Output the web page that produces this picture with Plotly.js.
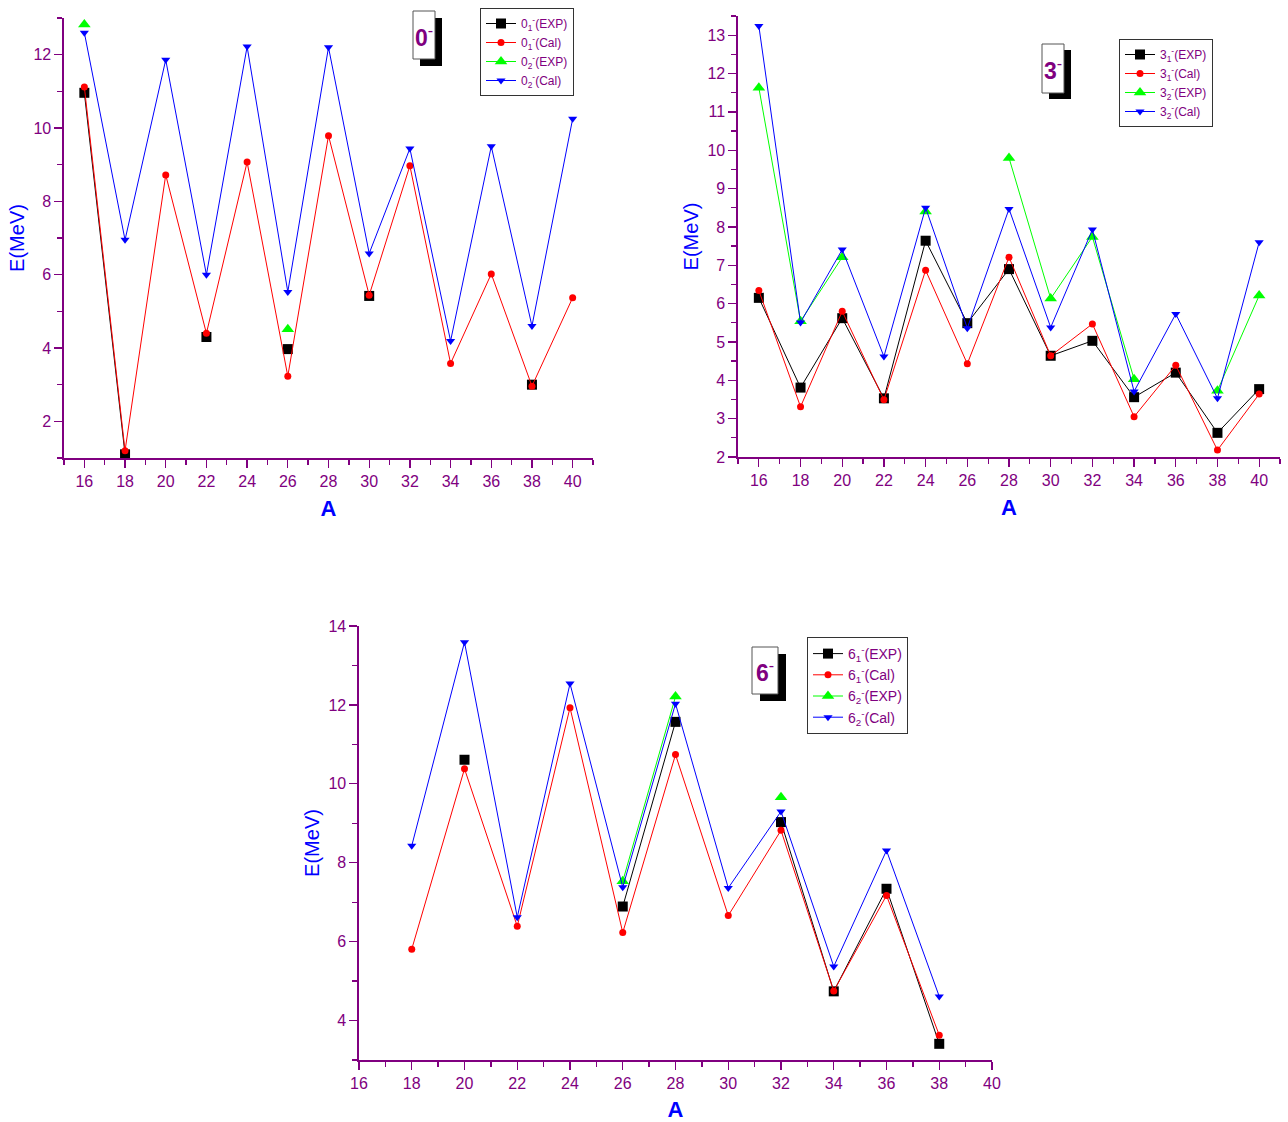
<!DOCTYPE html>
<html>
<head>
<meta charset="utf-8">
<script src="https://cdn.plot.ly/plotly-3.0.1.min.js"></script>
<style>html,body{margin:0;padding:0;background:#fff;}#chart{width:1288px;height:1122px;}</style>
</head>
<body>
<div id="chart"></div>
<script>
// ---- Data ----
const massA = [16, 18, 20, 22, 24, 26, 28, 30, 32, 34, 36, 38, 40];
const massA6 = [18, 20, 22, 24, 26, 28, 30, 32, 34, 36, 38];

// 0- states
const zero1Exp = [10.96, 1.1, null, 4.3, null, 3.97, null, 5.42, null, null, null, 3.0, null];
const zero1Cal = [11.12, 1.2, 8.72, 4.4, 9.07, 3.23, 9.79, 5.44, 8.97, 3.58, 6.02, 2.96, 5.37];
const zero2Exp = [12.82, null, null, null, null, 4.51, null, null, null, null, null, null, null];
const zero2Cal = [12.6, 6.95, 11.86, 6.0, 12.22, 5.53, 12.2, 6.58, 9.44, 4.19, 9.5, 4.6, 10.25];

// 3- states
const three1Exp = [6.15, 3.81, 5.62, 3.53, 7.64, 5.49, 6.90, 4.64, 5.03, 3.56, 4.2, 2.63, 3.77];
const three1Cal = [6.34, 3.31, 5.8, 3.49, 6.87, 4.43, 7.21, 4.64, 5.47, 3.05, 4.39, 2.18, 3.64];
const three2Exp = [11.63, 5.54, 7.21, null, 8.4, null, 9.8, 6.13, 7.74, 4.03, null, 3.73, 6.21];
const three2Cal = [13.24, 5.51, 7.41, 4.62, 8.5, 5.36, 8.47, 5.38, 7.93, 3.71, 5.73, 3.53, 7.6];

// 6- states
const six1Exp = [null, 10.61, null, null, 6.89, 11.57, null, 9.03, 4.74, 7.34, 3.41];
const six1Cal = [5.81, 10.38, 6.39, 11.93, 6.23, 10.74, 6.66, 8.82, 4.75, 7.17, 3.63];
const six2Exp = [null, null, null, null, 7.53, 12.21, null, 9.66, null, null, null];
const six2Cal = [8.43, 13.59, 6.62, 12.54, 7.38, 12.03, 7.36, 9.3, 5.37, 8.31, 4.61];

const xTickVals = [16, 18, 20, 22, 24, 26, 28, 30, 32, 34, 36, 38, 40];

// ---- Styles ----
const PURPLE = '#800080';
const FONT = 'Arial, "Liberation Sans", sans-serif';
const styles = [
  {color: '#000000', symbol: 'square', size: 10},
  {color: '#ff0000', symbol: 'circle', size: 7},
  {color: '#00ff00', symbol: 'triangle-up', size: 11},
  {color: '#0000ff', symbol: 'triangle-down', size: 8}
];

function mk(x, y, name, st, xa, ya, lg) {
  return {
    x: x, y: y, name: name, type: 'scatter', mode: 'lines+markers',
    connectgaps: false, xaxis: xa, yaxis: ya, legend: lg,
    line: {color: st.color, width: 1},
    marker: {color: st.color, symbol: st.symbol, size: st.size, line: {width: 0}}
  };
}

const traces = [
  mk(massA, zero1Exp, '0<sub>1</sub><sup>-</sup>(EXP)', styles[0], 'x', 'y', 'legend'),
  mk(massA, zero1Cal, '0<sub>1</sub><sup>-</sup>(Cal)', styles[1], 'x', 'y', 'legend'),
  mk(massA, zero2Exp, '0<sub>2</sub><sup>-</sup>(EXP)', styles[2], 'x', 'y', 'legend'),
  mk(massA, zero2Cal, '0<sub>2</sub><sup>-</sup>(Cal)', styles[3], 'x', 'y', 'legend'),
  mk(massA, three1Exp, '3<sub>1</sub><sup>-</sup>(EXP)', styles[0], 'x2', 'y2', 'legend2'),
  mk(massA, three1Cal, '3<sub>1</sub><sup>-</sup>(Cal)', styles[1], 'x2', 'y2', 'legend2'),
  mk(massA, three2Exp, '3<sub>2</sub><sup>-</sup>(EXP)', styles[2], 'x2', 'y2', 'legend2'),
  mk(massA, three2Cal, '3<sub>2</sub><sup>-</sup>(Cal)', styles[3], 'x2', 'y2', 'legend2'),
  mk(massA6, six1Exp, '6<sub>1</sub><sup>-</sup>(EXP)', styles[0], 'x3', 'y3', 'legend3'),
  mk(massA6, six1Cal, '6<sub>1</sub><sup>-</sup>(Cal)', styles[1], 'x3', 'y3', 'legend3'),
  mk(massA6, six2Exp, '6<sub>2</sub><sup>-</sup>(EXP)', styles[2], 'x3', 'y3', 'legend3'),
  mk(massA6, six2Cal, '6<sub>2</sub><sup>-</sup>(Cal)', styles[3], 'x3', 'y3', 'legend3')
];

const W = 1288, H = 1122;
const px = v => v / W;
const py = v => 1 - v / H;

function xaxisDef(domain, range, anchor) {
  return {
    domain: domain, range: range, anchor: anchor,
    tickvals: xTickVals, ticks: 'outside', ticklen: 8, tickwidth: 1.3, tickcolor: PURPLE,
    minor: {dtick: 1, tick0: 15, ticks: 'outside', ticklen: 5, tickcolor: PURPLE, tickwidth: 1.3, showgrid: false},
    showline: true, linecolor: PURPLE, linewidth: 1.6, showgrid: false, zeroline: false,
    tickfont: {family: FONT, size: 16, color: PURPLE},
    title: {text: '<b>A</b>', font: {family: FONT, size: 22, color: '#0000ff'}, standoff: 12}
  };
}
function yaxisDef(domain, range, dtick, minorD, anchor) {
  return {
    domain: domain, range: range, anchor: anchor,
    dtick: dtick, tick0: 0, ticks: 'outside', ticklen: 8, tickwidth: 1.3, tickcolor: PURPLE,
    minor: {dtick: minorD, tick0: 0, ticks: 'outside', ticklen: 5, tickcolor: PURPLE, tickwidth: 1.3, showgrid: false},
    showline: true, linecolor: PURPLE, linewidth: 1.6, showgrid: false, zeroline: false,
    tickfont: {family: FONT, size: 16, color: PURPLE},
    title: {text: 'E(MeV)', font: {family: FONT, size: 20, color: '#0000ff'}, standoff: 3}
  };
}
function legendDef(x, y, size) {
  return {
    x: x, y: y, xanchor: 'left', yanchor: 'top', xref: 'paper', yref: 'paper',
    bgcolor: '#ffffff', bordercolor: '#333333', borderwidth: 1,
    font: {family: FONT, size: size, color: PURPLE}, tracegroupgap: 0, itemwidth: 30
  };
}
function labelBox(x0, y0, x1, y1, sx, sy) {
  return [
    {type: 'rect', xref: 'paper', yref: 'paper', x0: px(x0 + sx), x1: px(x1 + sx), y0: py(y1 + sy), y1: py(y0 + sy),
     fillcolor: '#000000', line: {width: 0}},
    {type: 'rect', xref: 'paper', yref: 'paper', x0: px(x0), x1: px(x1), y0: py(y1), y1: py(y0),
     fillcolor: '#ffffff', line: {color: '#555555', width: 1}}
  ];
}
function labelText(txt, cx, cy) {
  return {text: '<b>' + txt + '</b><sup>-</sup>', xref: 'paper', yref: 'paper', x: px(cx), y: py(cy),
    xanchor: 'center', yanchor: 'middle', showarrow: false,
    font: {family: FONT, size: 23, color: PURPLE}};
}

const layout = {
  width: W, height: H, margin: {l: 0, r: 0, t: 0, b: 0},
  paper_bgcolor: '#ffffff', plot_bgcolor: 'rgba(0,0,0,0)', showlegend: true,
  xaxis: xaxisDef([px(64), px(593)], [15, 41], 'y'),
  yaxis: yaxisDef([py(458), py(18)], [1, 13], 2, 1, 'x'),
  xaxis2: xaxisDef([px(738), px(1280)], [15, 41], 'y2'),
  yaxis2: yaxisDef([py(457), py(16)], [2, 13.5], 1, 0.5, 'x2'),
  xaxis3: xaxisDef([px(359), px(992)], [16, 40], 'y3'),
  yaxis3: yaxisDef([py(1060), py(626)], [3, 14], 2, 1, 'x3'),
  legend: legendDef(px(480), py(8), 12),
  legend2: legendDef(px(1119), py(39), 12),
  legend3: legendDef(px(807), py(637), 14),
  shapes: [].concat(
    labelBox(413, 11, 435, 59, 7, 7),
    labelBox(1042, 44, 1064, 93, 7, 6),
    labelBox(752, 647, 778, 694, 8, 7)
  ),
  annotations: [
    labelText('0', 424, 36),
    labelText('3', 1053, 69),
    labelText('6', 765, 671)
  ]
};

Plotly.newPlot('chart', traces, layout, {displayModeBar: false, staticPlot: true});
</script>
</body>
</html>
